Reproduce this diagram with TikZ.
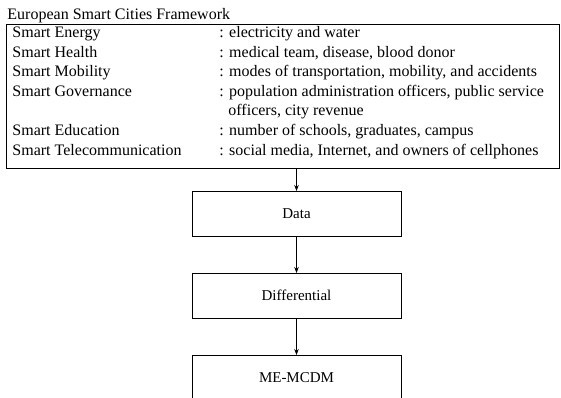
\documentclass[tikz,border=0pt]{standalone}
\usepackage{fontspec}
\setmainfont{Liberation Serif}
\usetikzlibrary{arrows.meta,positioning}

\begin{document}
\begin{tikzpicture}[
        x=1pt, y=1pt, font=\fontsize{16}{19.5}\selectfont, line width=0.9pt, node distance = 37pt,
        LabelStyle/.style={anchor=base west, inner sep=0pt},
        FlowBox/.style={draw, minimum width=209pt, minimum height=45pt, outer sep=0pt, font=\fontsize{15}{18}\selectfont},
        ]
    \useasboundingbox (0,0) rectangle (561,-398);
    \clip (0,0) rectangle (561,-398);
    \node [LabelStyle] (title) at (7,-20) {European Smart Cities Framework};
    \node [draw, minimum width=553pt, minimum height=144pt, anchor=north west, outer sep=0pt] (frame) at (6,-24) {};
    % categories and what they measure
    \node [LabelStyle] (energy) at (12,-38) {Smart Energy};
    \node [LabelStyle] (energyD) at (219,-38) {: electricity and water};
    \node [LabelStyle] (health) at (12,-57.5) {Smart Health};
    \node [LabelStyle] (healthD) at (219,-57.5) {: medical team, disease, blood donor};
    \node [LabelStyle] (mobility) at (12,-77) {Smart Mobility};
    \node [LabelStyle] (mobilityD) at (219,-77) {: modes of transportation, mobility, and accidents};
    \node [LabelStyle] (governance) at (12,-96.5) {Smart Governance};
    \node [LabelStyle] (governanceD) at (219,-96.5) {: population administration officers, public service};
    \node [LabelStyle] (governanceE) at (228,-116) {officers, city revenue};
    \node [LabelStyle] (education) at (12,-135.5) {Smart Education};
    \node [LabelStyle] (educationD) at (219,-135.5) {: number of schools, graduates, campus};
    \node [LabelStyle] (telecom) at (12,-155) {Smart Telecommunication};
    \node [LabelStyle] (telecomD) at (219,-155) {: social media, Internet, and owners of cellphones};
    % flow
    \node [FlowBox] (data) at (296.5,-213.5) {Data};
    \node [FlowBox, below=of data] (diff) {Differential};
    \node [FlowBox, below=of diff] (mcdm) {ME-MCDM};
    \begin{scope}[-{Stealth[length=6pt, width=4.5pt]}, line width=0.7pt]
        \draw (frame.south -| data.north) -- (data.north);
        \draw (data) -- (diff);
        \draw (diff) -- (mcdm);
    \end{scope}
\end{tikzpicture}
\end{document}
